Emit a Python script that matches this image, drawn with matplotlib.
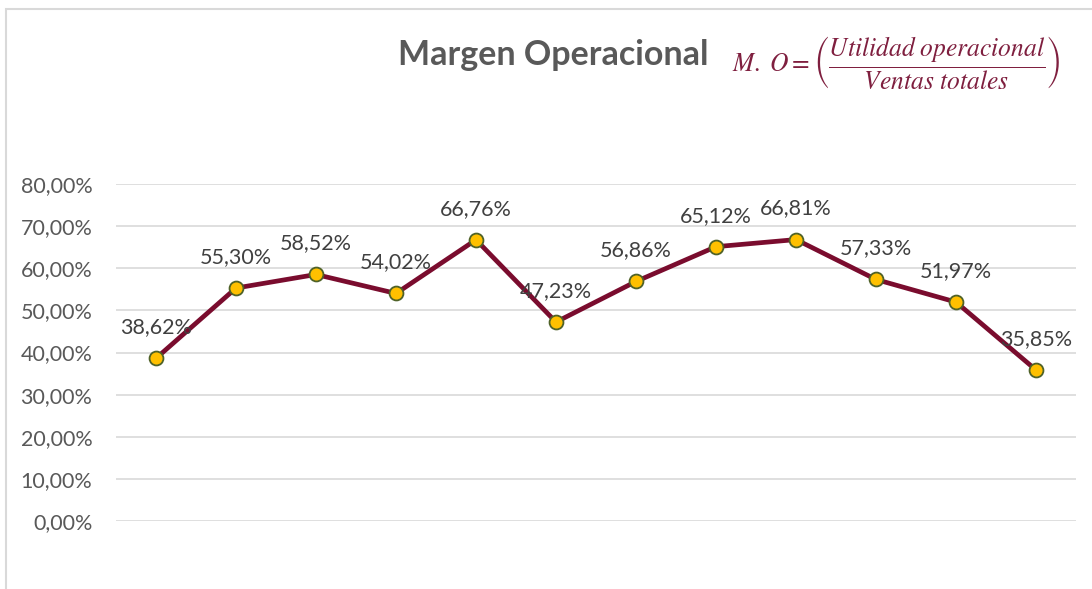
import matplotlib.pyplot as plt
import numpy as np
from matplotlib.patches import Rectangle

# margen operacional por periodo (%)
periodos = list(range(1, 13))
margen = [38.62, 55.30, 58.52, 54.02, 66.76, 47.23, 56.86, 65.12, 66.81, 57.33, 51.97, 35.85]
yticks = [0, 10, 20, 30, 40, 50, 60, 70, 80]

plt.rcParams['font.family'] = ['Lato', 'DejaVu Sans']
plt.rcParams['mathtext.fontset'] = 'stix'

fig = plt.figure(figsize=(10.92, 5.89), dpi=100)
ax = fig.add_axes([116 / 1092, 1 - 521 / 589, 960 / 1092, 337 / 589])

# borde del área del gráfico
fig.patches.append(Rectangle((6 / 1092, -0.1), 1.2, (589 - 9.5) / 589 + 0.1,
                             transform=fig.transFigure, fill=False,
                             edgecolor='#D9D9D9', linewidth=1.5))

ax.plot(periodos, margen, color='#7A0C2E', linewidth=3.4, marker='o',
        markersize=10, markerfacecolor='#FFC000', markeredgecolor='#4F6228',
        markeredgewidth=1.3, zorder=3)

for x, v in zip(periodos, margen):
    ax.annotate(f'{v:.2f}%'.replace('.', ','), (x, v), xytext=(0, 31),
                textcoords='offset pixels', ha='center', va='center',
                fontsize=15.5, color='#404040', zorder=4)

ax.set_xlim(0.5, 12.5)
ax.set_ylim(0, 80)
ax.set_yticks(yticks)
ax.set_yticklabels([f'{t},00%' for t in yticks], fontsize=15.5, color='#595959')
ax.tick_params(axis='y', length=0, pad=17)
ax.set_xticks([])
ax.grid(axis='y', color='#D9D9D9', linewidth=1.2)
ax.set_axisbelow(True)
for s in ax.spines.values():
    s.set_visible(False)

fig.text(553 / 1092, 1 - 55 / 589, 'Margen Operacional', ha='center', va='center',
         fontsize=24.5, fontweight='bold', color='#595959')
fig.text(896 / 1092, 1 - 62 / 589,
         r'$M.\ O=\left(\dfrac{Utilidad\ operacional}{Ventas\ totales}\right)$',
         ha='center', va='center', fontsize=18.4, color='#7F1F3F')

fig.savefig('out.png', dpi=100)
